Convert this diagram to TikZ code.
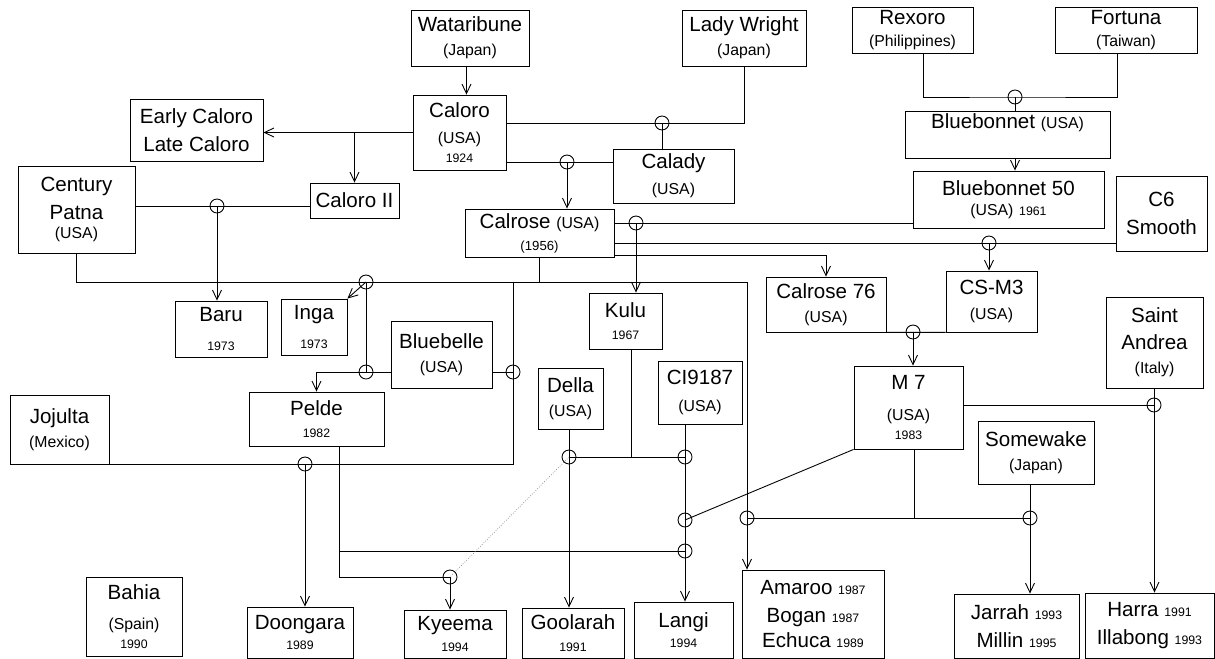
\documentclass[tikz,border=0pt]{standalone}
\usepackage{fontspec}
\setmainfont{Liberation Sans}
\usetikzlibrary{arrows.meta}
\newcommand{\ctry}[1]{{\fontsize{9}{11}\selectfont #1}}
\newcommand{\yrs}[1]{{\fontsize{7}{9}\selectfont #1}}

\begin{document}
\begin{tikzpicture}[x=0.02cm, y=-0.02cm, >={Straight Barb[length=1.9mm,width=1.8mm]}]
    \tikzstyle{variety} = [rectangle, draw, line width=0.5pt, inner sep=1pt, align=center, font=\fontsize{11.7}{16}\selectfont]
    \tikzstyle{link} = [draw, line width=0.5pt]
    \tikzstyle{cross} = [circle, draw, line width=0.5pt, minimum size=0.28cm, inner sep=0pt]

    \useasboundingbox (0,0) rectangle (1215,659);

    % parents at the top
    \node [variety, minimum width=2.36cm, minimum height=1.12cm] (wataribune) at (470,38) {Wataribune\\[-2.5pt]\ctry{(Japan)}};
    \node [variety, minimum width=2.48cm, minimum height=1.12cm] (ladywright) at (744,38) {Lady Wright\\[-2.5pt]\ctry{(Japan)}};
    \node [variety, minimum width=2.42cm, minimum height=0.92cm] (rexoro) at (912.5,30) {Rexoro\\[-3.5pt]\ctry{(Philippines)}};
    \node [variety, minimum width=2.84cm, minimum height=0.92cm] (fortuna) at (1126,30) {Fortuna\\[-3.5pt]\ctry{(Taiwan)}};

    \node [variety, minimum width=2.66cm, minimum height=1.24cm] (early) at (196.5,130) {Early Caloro\\Late Caloro};
    \node [variety, minimum width=1.86cm, minimum height=1.50cm] (caloro) at (459.5,132.5) {Caloro\\[-1pt]\ctry{(USA)}\\[-5pt]\yrs{1924}};
    \node [variety, minimum width=2.42cm, minimum height=1.08cm] (calady) at (673.5,176) {Calady\\[-1pt]\ctry{(USA)}};
    \node [variety, minimum width=4.10cm, minimum height=0.92cm] (bluebonnet) at (1007.5,135) {Bluebonnet \ctry{(USA)}\\\mbox{}};
    \node [variety, minimum width=3.82cm, minimum height=1.14cm] (bb50) at (1008.5,199.5) {Bluebonnet 50\\[-4.5pt]\ctry{(USA)} \yrs{1961}};
    \node [variety, minimum width=1.82cm, minimum height=1.50cm] (c6) at (1161.5,213.5) {C6\\Smooth};
    \node [variety, minimum width=2.34cm, minimum height=1.74cm] (century) at (76.5,209.5) {Century\\Patna\\[-5pt]\ctry{(USA)}};
    \node [variety, minimum width=1.78cm, minimum height=0.70cm] (caloroii) at (354.5,200.5) {Caloro II};
    \node [variety, minimum width=2.98cm, minimum height=0.96cm] (calrose) at (539.5,233) {Calrose \ctry{(USA)}\\[-3.5pt]{\fontsize{7.5}{9}\selectfont (1956)}};

    % middle rows
    \node [variety, minimum width=1.84cm, minimum height=1.12cm] (baru) at (221,329) {Baru\\\yrs{1973}};
    \node [variety, minimum width=1.32cm, minimum height=1.12cm] (inga) at (314,327) {Inga\\\yrs{1973}};
    \node [variety, minimum width=2.02cm, minimum height=1.34cm] (bluebelle) at (441.5,354.5) {Bluebelle\\[-2pt]\ctry{(USA)}};
    \node [variety, minimum width=2.70cm, minimum height=1.08cm] (pelde) at (316.5,419) {Pelde\\[-3.5pt]\yrs{1982}};
    \node [variety, minimum width=1.98cm, minimum height=1.38cm] (jojulta) at (59.5,429.5) {Jojulta\\[-2pt]\ctry{(Mexico)}};
    \node [variety, minimum width=1.46cm, minimum height=1.12cm] (kulu) at (625.5,321) {Kulu\\[-3.5pt]\yrs{1967}};
    \node [variety, minimum width=1.30cm, minimum height=1.22cm] (della) at (570.5,398.5) {Della\\[-2pt]\ctry{(USA)}};
    \node [variety, minimum width=1.68cm, minimum height=1.26cm] (ci9187) at (700,392.5) {CI9187\\[-1pt]\ctry{(USA)}};
    \node [variety, minimum width=2.40cm, minimum height=1.10cm] (calrose76) at (826,304.5) {Calrose 76\\[-2pt]\ctry{(USA)}};
    \node [variety, minimum width=1.82cm, minimum height=1.22cm] (csm3) at (991.5,301.5) {CS-M3\\[-1.5pt]\ctry{(USA)}};
    \node [variety, minimum width=1.94cm, minimum height=1.82cm] (andrea) at (1154.5,342.5) {Saint\\[-1pt]Andrea\\[-2pt]\ctry{(Italy)}};
    \node [variety, minimum width=2.18cm, minimum height=1.66cm] (m7) at (908.5,407.5) {M 7\\[2pt]\ctry{(USA)}\\[-5pt]\yrs{1983}};
    \node [variety, minimum width=2.32cm, minimum height=1.26cm] (somewake) at (1036,452.5) {Somewake\\[-2pt]\ctry{(Japan)}};

    % released varieties
    \node [variety, minimum width=1.92cm, minimum height=1.58cm] (bahia) at (134,616.5) {Bahia\\[1pt]\ctry{(Spain)}\\[-5pt]\yrs{1990}};
    \node [variety, minimum width=2.12cm, minimum height=1.02cm] (doongara) at (300,632.5) {Doongara\\[-4.5pt]\yrs{1989}};
    \node [variety, minimum width=2.04cm, minimum height=0.96cm] (kyeema) at (455,634) {Kyeema\\[-4.5pt]\yrs{1994}};
    \node [variety, minimum width=2.04cm, minimum height=1.00cm] (goolarah) at (573,633) {Goolarah\\[-3.5pt]\yrs{1991}};
    \node [variety, minimum width=1.98cm, minimum height=1.12cm] (langi) at (683.5,630) {Langi\\[-4.5pt]\yrs{1994}};
    \node [variety, minimum width=2.84cm, minimum height=1.76cm] (amaroo) at (813,614) {Amaroo \yrs{1987}\\Bogan \yrs{1987}\\[-2pt]Echuca \yrs{1989}};
    \node [variety, minimum width=2.50cm, minimum height=1.28cm] (jarrah) at (1016.5,626) {Jarrah \yrs{1993}\\Millin \yrs{1995}};
    \node [variety, minimum width=2.58cm, minimum height=1.30cm] (harra) at (1149.5,625.5) {Harra \yrs{1991}\\Illabong \yrs{1993}};

    % crossing points
    \node [cross] (j1) at (662,123) {};
    \node [cross] (j2) at (567,162) {};
    \node [cross] (j3) at (217,206) {};
    \node [cross] (j4) at (366,282) {};
    \node [cross] (j5) at (366,372) {};
    \node [cross] (j6) at (513,372) {};
    \node [cross] (j7) at (305,464) {};
    \node [cross] (j8) at (685,551) {};
    \node [cross] (j9) at (450,577) {};
    \node [cross] (j10) at (569,457) {};
    \node [cross] (j11) at (685,457) {};
    \node [cross] (j12) at (636,223) {};
    \node [cross] (j13) at (685,520) {};
    \node [cross] (j14) at (747,518) {};
    \node [cross] (j15) at (1030,518) {};
    \node [cross] (j16) at (1154,405) {};
    \node [cross] (j17) at (989,243) {};
    \node [cross] (j18) at (1015,97) {};
    \node [cross] (j19) at (913,332) {};
    \coordinate (k1) at (747,282);
    \coordinate (k2) at (513,282);
    \coordinate (k3) at (513,464);
    \coordinate (k4) at (339,551);

    % Caloro and Calrose
    \path [link, ->] ([xshift=-2pt]wataribune.south) -- ([xshift=-2pt]wataribune.south |- caloro.north);
    \path [link] (ladywright.south) |- (caloro.east |- j1);
    \path [link] (j1.center) -- (j1 |- calady.north);
    \path [link] (caloro.east |- j2) -- (calady.west |- j2);
    \path [link, ->] (j2.center) -- (j2 |- calrose.north);
    \path [link, ->] (caloro.west) -- (caloro.west -| early.east);
    \path [link, ->] (caloro.west -| caloroii.north) -- (caloroii.north);
    \path [link] (century.east |- j3) -- (caloroii.west |- j3);
    \path [link, ->] (j3.center) -- (j3 |- baru.north);

    % Bluebonnet
    \path [link] ([xshift=6pt]rexoro.south) |- (j18.center) -| ([xshift=-5pt]fortuna.south);
    \path [link] (j18.center) -- (j18 |- bluebonnet.north);
    \path [link, ->] (j18 |- bluebonnet.south) -- (j18 |- bb50.north);

    % Calrose crosses
    \path [link] (calrose.east |- j12) -- (bb50.west |- j12);
    \path [link, ->] (j12.center) -- (j12 |- kulu.north);
    \path [link] (calrose.east |- j17) -- (c6.west |- j17);
    \path [link, ->] (j17.center) -- (j17 |- csm3.north);
    \path [link, ->] ([yshift=1pt]calrose.south east) -| (calrose76.north);
    \path [link] (calrose76.south east) -- (csm3.south west);
    \path [link, ->] (j19.center) -- (j19 |- m7.north);

    % Century Patna x Calrose
    \path [link] (century.south) |- (k1);
    \path [link] (calrose.south) -- (calrose.south |- k1);
    \path [link, ->] (k1) -- (k1 |- amaroo.north);
    \path [link, ->] (j4.center) -- (inga.north east);
    \path [link] (j4.center) -- (j5.center);
    \path [link, ->] (bluebelle.west |- j5) -| (pelde.north);
    \path [link] (k2) -- (k3) -- (jojulta.east |- k3);
    \path [link] (bluebelle.east |- j6) -- (j6.center);
    \path [link, ->] (j7.center) -- (j7 |- doongara.north);

    % Pelde
    \path [link] (pelde.south -| k4) |- (j9.center);
    \path [link] (k4) -- (j8.center);
    \path [link, ->] (j9.center) -- (j9 |- kyeema.north);
    \draw [gray, line width=0.4pt, densely dotted] (j10.center) -- (j9.center);

    % Della, Kulu, CI9187
    \path [link, ->] (j10 |- della.south) -- (j10 |- goolarah.north);
    \path [link] ([xshift=3.5pt]kulu.south) -- ([xshift=3.5pt]kulu.south |- j10);
    \path [link] (j10.center) -- (j11.center);
    \path [link, ->] (j11 |- ci9187.south) -- (j11 |- langi.north);

    % M 7
    \path [link] (m7.south west) -- (j13.center);
    \path [link] ([xshift=3.5pt]m7.south) -- ([xshift=3.5pt]m7.south |- j14);
    \path [link] (j14.center) -- (j15.center);
    \path [link, ->] (j15 |- somewake.south) -- (j15 |- jarrah.north);
    \path [link] (m7.east |- j16) -- (j16.center);
    \path [link, ->] (andrea.south) -- (andrea.south |- harra.north);
\end{tikzpicture}
\end{document}
